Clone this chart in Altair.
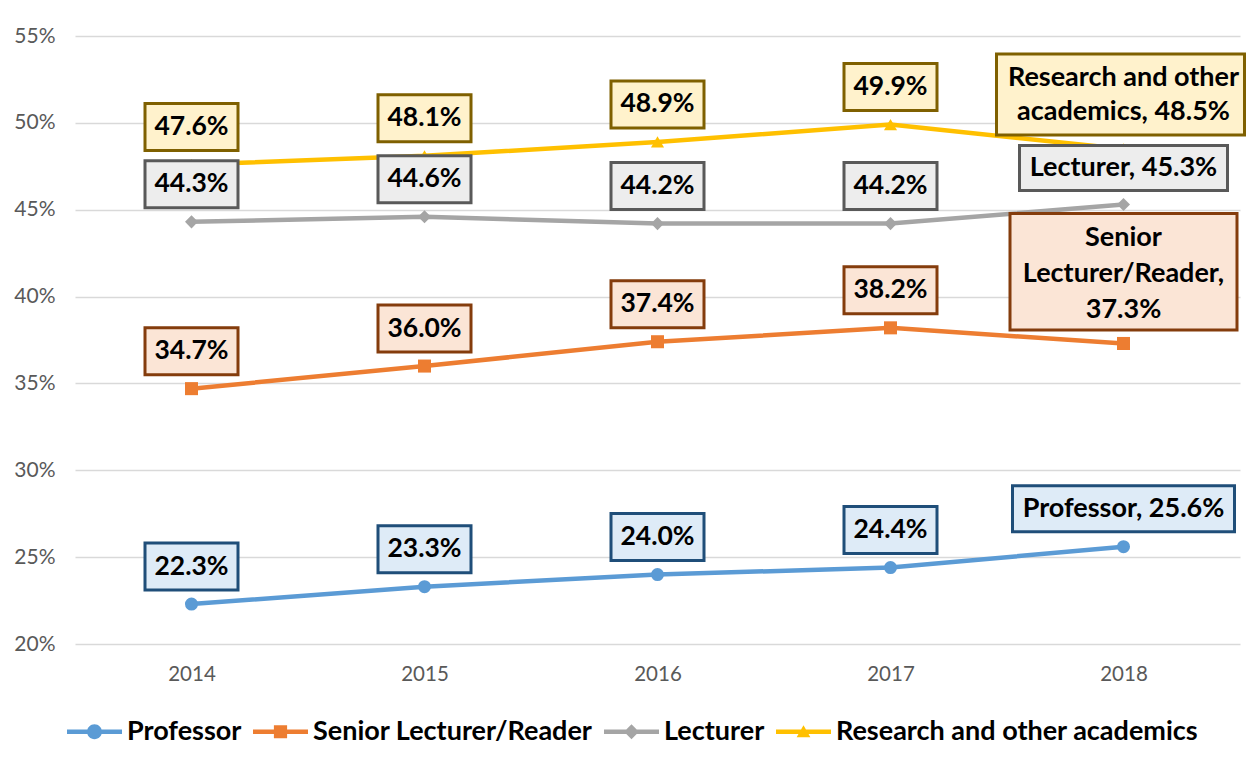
import altair as alt
import pandas as pd

years = [2014, 2015, 2016, 2017, 2018]
series = ["Professor", "Senior Lecturer/Reader", "Lecturer", "Research and other academics"]
professor = [22.3, 23.3, 24.0, 24.4, 25.6]
senior = [34.7, 36.0, 37.4, 38.2, 37.3]
lecturer = [44.3, 44.6, 44.2, 44.2, 45.3]
research = [47.6, 48.1, 48.9, 49.9, 48.5]
end_labels = [
    "Professor, 25.6%",
    "Senior\nLecturer/Reader,\n37.3%",
    "Lecturer, 45.3%",
    "Research and other\nacademics, 48.5%",
]
y_ticks = [0.20, 0.25, 0.30, 0.35, 0.40, 0.45, 0.50, 0.55]

line_colors = ["#5B9BD5", "#ED7D31", "#A5A5A5", "#FFC000"]
box_fills = ["#DEEBF7", "#FBE5D6", "#EDEDED", "#FFF2CC"]
box_strokes = ["#1F4E79", "#843C0C", "#595959", "#7F6000"]
shapes = ["circle", "square", "diamond", "triangle-up"]
LINE = "M-1,-0.085H-0.24V0.085H-1Z M0.24,-0.085H1V0.085H0.24Z "
MID = " M-0.25,-0.085H0.25V0.085H-0.25Z"
legend_paths = [
    LINE + "M-0.27,0 A0.27,0.27 0 1,1 0.27,0 A0.27,0.27 0 1,1 -0.27,0 Z",
    LINE + "M-0.24,-0.24H0.24V0.24H-0.24Z" + MID,
    LINE + "M0,-0.27L0.27,0L0,0.27L-0.27,0Z" + MID,
    LINE + "M0,-0.24L0.25,0.2L-0.25,0.2Z" + MID,
]

rows = []
for name, vals, end in zip(series, [professor, senior, lecturer, research], end_labels):
    for yr, v in zip(years, vals):
        rows.append({"year": yr, "series": name, "value": v / 100,
                     "label": f"{v:.1f}%", "end_label": end})
df = pd.DataFrame(rows)

FONT = "Lato"
x = alt.X("year:Q", scale=alt.Scale(domain=[2013.5, 2018.5], nice=False),
          axis=alt.Axis(values=years, format="d", title=None, grid=False, domain=False,
                        ticks=False, labelFontSize=20.5, labelColor="#595959",
                        labelFont=FONT, labelPadding=20))
y = alt.Y("value:Q", scale=alt.Scale(domain=[0.20, 0.55], nice=False),
          axis=alt.Axis(values=y_ticks, format=".0%", title=None, grid=True,
                        gridColor="#D9D9D9", gridWidth=1.5, domain=False, ticks=False,
                        labelFontSize=21, labelColor="#595959", labelFont=FONT,
                        labelPadding=20))

base = alt.Chart(df)

def sc(rng):
    return alt.Scale(domain=series, range=rng)

lines = base.mark_line(strokeWidth=4.5).encode(
    x=x, y=y, detail="series:N",
    stroke=alt.Stroke("series:N", scale=sc(line_colors), legend=None),
)
points = base.mark_point(filled=True, opacity=1, size=170, strokeWidth=0).encode(
    x=x, y=y,
    fill=alt.Fill("series:N", scale=sc(line_colors), legend=None),
    shape=alt.Shape("series:N", scale=sc(shapes), legend=None),
)

leg = alt.Legend(title=None, orient="none", legendX=-8, legendY=668, direction="horizontal",
                 symbolSize=3025, symbolStrokeWidth=0, symbolOpacity=1,
                 labelFont=FONT, labelFontWeight="bold", labelFontSize=27,
                 labelColor="black", labelLimit=600, columnPadding=11, labelOffset=5)
legend_layer = base.mark_point(filled=True, opacity=0, strokeWidth=0).encode(
    x=x, y=y,
    color=alt.Color("series:N", scale=sc(line_colors), legend=leg),
    shape=alt.Shape("series:N", scale=sc(legend_paths), legend=leg),
)

boxes = base.transform_filter("datum.year < 2018").mark_rect(
    strokeWidth=3, xOffset=-46.5, x2Offset=46.5, yOffset=-61, y2Offset=-14
).encode(
    x=x, x2="year:Q", y=y, y2="value:Q",
    fill=alt.Fill("series:N", scale=sc(box_fills), legend=None),
    stroke=alt.Stroke("series:N", scale=sc(box_strokes), legend=None),
)
texts = base.transform_filter("datum.year < 2018").mark_text(
    font=FONT, fontWeight="bold", fontSize=26.5, color="black", dy=-37.5, baseline="middle"
).encode(x=x, y=y, text="label:N")

# end label geometry: left, right, top, bottom offsets, first-line offset, line height
end_geom = {
    "Professor": (-111, 111, -61, -15, -38, 34),
    "Senior Lecturer/Reader": (-113.5, 113.5, -130, -13.5, -105.5, 36),
    "Lecturer": (-104, 104, -59, -14, -36.5, 34),
    "Research and other academics": (-127, 121, -95, -14, -71, 34),
}
end_layers = []
for name in series:
    lo, hi, top, bot, first, lh = end_geom[name]
    sub = base.transform_filter(f"datum.year == 2018 && datum.series == '{name}'")
    end_layers.append(sub.mark_rect(
        strokeWidth=3, xOffset=lo, x2Offset=hi, yOffset=top, y2Offset=bot
    ).encode(
        x=x, x2="year:Q", y=y, y2="value:Q",
        fill=alt.Fill("series:N", scale=sc(box_fills), legend=None),
        stroke=alt.Stroke("series:N", scale=sc(box_strokes), legend=None),
    ))
    end_layers.append(sub.mark_text(
        font=FONT, fontWeight="bold", fontSize=27, color="black", dy=first,
        baseline="middle", lineBreak="\n", lineHeight=lh
    ).encode(x=x, y=y, text="end_label:N"))

chart = alt.layer(lines, points, legend_layer, boxes, texts, *end_layers).resolve_scale(
    color="independent", fill="independent", stroke="independent", shape="independent"
).properties(
    width=1165, height=608,
    autosize=alt.AutoSizeParams(type="none"),
    padding={"left": 67, "top": 28, "right": 7, "bottom": 116},
    background="white",
).configure_view(stroke=None)

chart.save("out.html", embed_options={"renderer": "svg", "actions": False})
